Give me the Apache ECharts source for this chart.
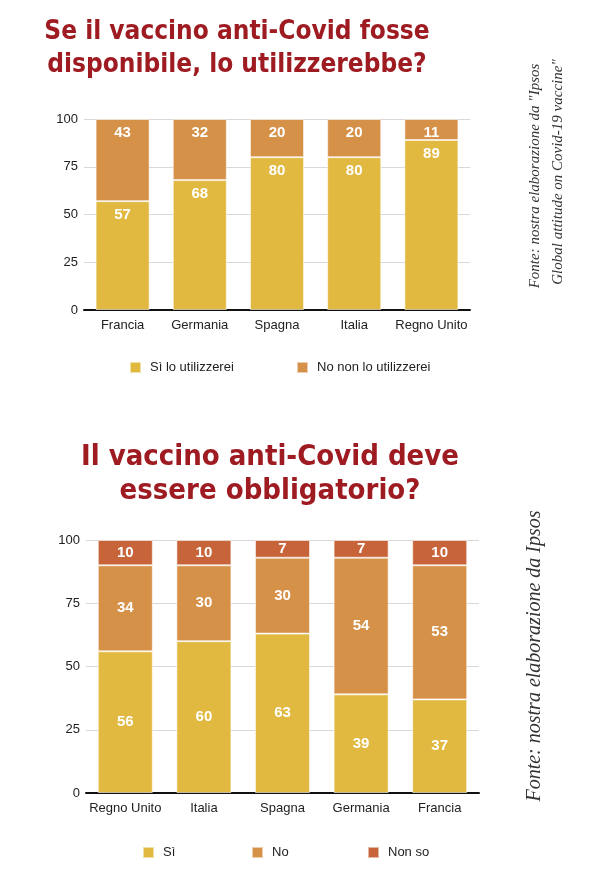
<!DOCTYPE html>
<html>
<head>
<meta charset="utf-8">
<script src="https://cdn.jsdelivr.net/npm/echarts@6/dist/echarts.min.js"></script>
<style>
  html, body { margin: 0; padding: 0; background: #fff; }
  #chart { width: 600px; height: 884px; }
</style>
</head>
<body>
<div id="chart"></div>
<script>
// grafico 1: utilizzo del vaccino
const paesi1 = ['Francia', 'Germania', 'Spagna', 'Italia', 'Regno Unito'];
const si1 = [57, 68, 80, 80, 89];
const no1 = [43, 32, 20, 20, 11];

// grafico 2: obbligatorietà
const paesi2 = ['Regno Unito', 'Italia', 'Spagna', 'Germania', 'Francia'];
const si2 = [56, 60, 63, 39, 37];
const no2 = [34, 30, 30, 54, 53];
const nonso2 = [10, 10, 7, 7, 10];

const yTicks = [0, 25, 50, 75, 100];

const GIALLO = '#E1B941';
const ARANCIO = '#D69149';
const ROSSO = '#C8643A';
const TITOLO = '#9E1B22';
const sans = '"Liberation Sans", Arial, sans-serif';
const cond = '"DejaVu Sans Condensed", sans-serif';

const chart = echarts.init(document.getElementById('chart'));

const xAx = (idx, data) => ({
    type: 'category', gridIndex: idx, data: data,
    axisLine: { lineStyle: { color: '#111', width: 2 } },
    axisTick: { show: false },
    axisLabel: { color: '#222', fontSize: 13, fontFamily: sans, margin: 9, interval: 0 }
});
const yAx = (idx) => ({
    type: 'value', gridIndex: idx, min: 0, max: 100, interval: 25,
    axisLine: { show: false }, axisTick: { show: false },
    axisLabel: { color: '#222', fontSize: 13, fontFamily: sans, margin: 6,
                 formatter: v => yTicks.includes(v) ? String(v) : '' },
    splitLine: { lineStyle: { color: '#d8d8d8', width: 1 } }
});
const lbl = (pos, dist) => ({
    show: true, position: pos, distance: dist, color: '#fff',
    fontSize: 15, fontWeight: 'bold', fontFamily: sans
});
const barSerie = (name, data, color, idx, pos, dist) => ({
    name: name, type: 'bar', stack: 's' + idx, data: data,
    xAxisIndex: idx, yAxisIndex: idx, barWidth: '70%',
    itemStyle: { color: color, borderColor: 'rgba(255,255,255,0.55)', borderWidth: 1 },
    label: lbl(pos, dist)
});
const legenda = (name, left, top) => ({
    data: [name], left: left, top: top, itemWidth: 11, itemHeight: 11,
    icon: 'rect', itemGap: 0,
    textStyle: { color: '#222', fontSize: 13, fontFamily: sans, padding: [0, 0, 0, 4] }
});
const fonte = (text, x, y, size) => ({
    type: 'text', x: x, y: y, rotation: Math.PI / 2,
    style: { text: text, fill: '#333', font: 'italic ' + size + 'px "Liberation Serif", serif',
             align: 'center', verticalAlign: 'middle' }
});

chart.setOption({
    animation: false,
    title: [
        { text: 'Se il vaccino anti-Covid fosse\ndisponibile, lo utilizzerebbe?', left: 232, top: 11,
          textAlign: 'center',
          textStyle: { color: TITOLO, fontSize: 26, fontWeight: 'bold', lineHeight: 33, fontFamily: cond } },
        { text: 'Il vaccino anti-Covid deve\nessere obbligatorio?', left: 265, top: 435,
          textAlign: 'center',
          textStyle: { color: TITOLO, fontSize: 29, fontWeight: 'bold', lineHeight: 34, fontFamily: cond } }
    ],
    legend: [
        legenda('Sì lo utilizzerei', 124, 356),
        legenda('No non lo utilizzerei', 291, 356),
        legenda('Sì', 137, 841),
        legenda('No', 246, 841),
        legenda('Non so', 362, 841)
    ],
    grid: [
        { left: 84, right: 130, top: 119, bottom: 574 },
        { left: 86, right: 121, top: 540, bottom: 91 }
    ],
    xAxis: [xAx(0, paesi1), xAx(1, paesi2)],
    yAxis: [yAx(0), yAx(1)],
    series: [
        barSerie('Sì lo utilizzerei', si1, GIALLO, 0, 'insideTop', 6),
        barSerie('No non lo utilizzerei', no1, ARANCIO, 0, 'insideTop', 6),
        barSerie('Sì', si2, GIALLO, 1, 'inside', 0),
        barSerie('No', no2, ARANCIO, 1, 'inside', 0),
        barSerie('Non so', nonso2, ROSSO, 1, 'inside', 0)
    ],
    graphic: [
        fonte('Fonte: nostra elaborazione da "Ipsos', 535, 176, 15),
        fonte('Global attitude on Covid-19 vaccine"', 558, 172, 15),
        fonte('Fonte: nostra elaborazione da Ipsos', 535, 656, 20)
    ]
});
</script>
</body>
</html>
